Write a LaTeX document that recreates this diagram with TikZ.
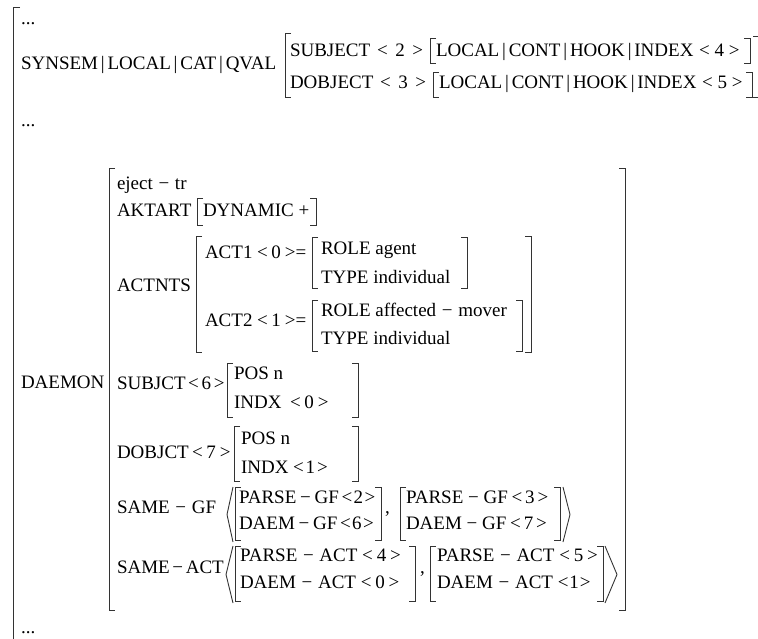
\documentclass[tikz,border=0pt]{standalone}
\usepackage{fontspec}
\setmainfont{Liberation Serif}
% thin spacing round the path separator
\newcommand\fsep{\hspace{0.15em}|\hspace{0.15em}}
% a boxed index such as < 2 >, with a given gap
\newcommand\tagidx[2]{<\hspace{#1}#2\hspace{#1}>}
% a hyphenated name with a given gap round the minus: gap, left, right
\newcommand\hyph[3]{#2\hspace{#1}−\hspace{#1}#3}
% square brackets: x, top, bottom
\newcommand\lbrk[3]{\draw[brk] ({#1+6},#2) -- (#1,#2) -- (#1,#3) -- ({#1+6},#3);}
\newcommand\rbrk[3]{\draw[brk] ({#1-6},#2) -- (#1,#2) -- (#1,#3) -- ({#1-6},#3);}
% angle brackets: tip x, open x, top, bottom
\newcommand\angbrk[4]{\draw[brk] (#2,#3) -- (#1,{(#3+#4)/2}) -- (#2,#4);}
\begin{document}
\begin{tikzpicture}[x=1pt,y=-1pt,
  txt/.style={anchor=base west, inner sep=0pt, outer sep=0pt,
              font=\fontsize{19}{22}\selectfont},
  brk/.style={line width=0.9pt, draw=black!80}]
\useasboundingbox (0,0) rectangle (758,638);

% outermost matrix
\draw[brk] (20,7) -- (13,7) -- (13,645);
\node[txt] (dots1) at (21,24) {...};
\node[txt] (synsem) at (21,69) {SYNSEM\fsep LOCAL\fsep CAT\fsep QVAL};
\lbrk{285}{33}{97}
\rbrk{759}{36}{97}
\node[txt] (subj) at (290,56) {SUBJECT};
\node[txt] (subjt) at (377,56) {\tagidx{.4em}{2}};
\lbrk{430}{38}{63}
\node[txt] (subjv) at (436,56) {LOCAL\fsep CONT\fsep HOOK\fsep INDEX\hspace{.3em}\tagidx{.25em}{4}};
\rbrk{750}{38}{63}
\node[txt] (dobj) at (290,88) {DOBJECT};
\node[txt] (dobjt) at (380,88) {\tagidx{.4em}{3}};
\lbrk{433}{72}{97}
\node[txt] (dobjv) at (439,88) {LOCAL\fsep CONT\fsep HOOK\fsep INDEX\hspace{.3em}\tagidx{.25em}{5}};
\rbrk{752}{72}{97}
\node[txt] (dots2) at (21,126) {...};

% DAEMON value
\node[txt] (daemon) at (21,388) {DAEMON};
\lbrk{109}{168}{610}
\rbrk{625}{168}{610}
\node[txt] (eject) at (117,189) {\hyph{.3em}{eject}{tr}};
\node[txt] (aktart) at (117,216) {AKTART};
\lbrk{197}{198}{225}
\node[txt] (dyn) at (203,216) {DYNAMIC +};
\rbrk{316}{198}{225}

% ACTNTS
\node[txt] (actnts) at (117,291) {ACTNTS};
\lbrk{196}{236}{352}
\rbrk{531}{236}{352}
\node[txt] (act1) at (205,258) {ACT1};
\node[txt] (act1t) at (257,258) {\tagidx{.2em}{0}=};
\lbrk{312}{237}{288}
\node[txt] (role1) at (321,254) {ROLE agent};
\node[txt] (type1) at (321,283) {TYPE individual};
\rbrk{467}{237}{288}
\node[txt] (act2) at (205,326) {ACT2};
\node[txt] (act2t) at (257,326) {\tagidx{.2em}{1}=};
\lbrk{312}{300}{351}
\node[txt] (role2) at (321,316) {ROLE \hyph{.3em}{affected}{mover}};
\node[txt] (type2) at (321,344) {TYPE individual};
\rbrk{522}{300}{351}

% SUBJCT and DOBJCT
\node[txt] (subjct) at (117,389) {SUBJCT};
\node[txt] (subjctt) at (188,389) {\tagidx{.15em}{6}};
\lbrk{227}{363}{417}
\node[txt] (pos1) at (234,379) {POS n};
\node[txt] (indx1) at (234,408) {INDX};
\node[txt] (indx1t) at (290,408) {\tagidx{.2em}{0}};
\rbrk{358}{363}{417}
\node[txt] (dobjct) at (117,458) {DOBJCT};
\node[txt] (dobjctt) at (192,458) {\tagidx{.2em}{7}};
\lbrk{234}{426}{481}
\node[txt] (pos2) at (241,444) {POS n};
\node[txt] (indx2) at (241,473) {INDX};
\node[txt] (indx2t) at (293,473) {\tagidx{.1em}{1}};
\rbrk{358}{426}{481}

% SAME-GF
\node[txt] (samegf) at (117,513) {\hyph{.3em}{SAME}{GF}};
\angbrk{227}{233}{487}{542}
\lbrk{235}{487}{540}
\node[txt] (pgf2) at (239,503) {\hyph{.2em}{PARSE}{GF}\hspace{.14em}\tagidx{.07em}{2}};
\node[txt] (dgf6) at (239,529) {\hyph{.2em}{DAEM}{GF}\hspace{.14em}\tagidx{.07em}{6}};
\rbrk{381}{487}{540}
\node[txt] (c1) at (385,513) {,};
\lbrk{400}{487}{540}
\node[txt] (pgf3) at (406,503) {\hyph{.25em}{PARSE}{GF}\hspace{.2em}\tagidx{.15em}{3}};
\node[txt] (dgf7) at (406,529) {\hyph{.25em}{DAEM}{GF}\hspace{.2em}\tagidx{.15em}{7}};
\rbrk{560}{487}{540}
\angbrk{570}{563}{487}{542}

% SAME-ACT
\node[txt] (sameact) at (117,573) {\hyph{.14em}{SAME}{ACT}};
\angbrk{226}{233}{546}{603}
\lbrk{235}{546}{601}
\node[txt] (pact4) at (240,561) {\hyph{.3em}{PARSE}{ACT}\hspace{.25em}\tagidx{.2em}{4}};
\node[txt] (dact0) at (240,588) {\hyph{.3em}{DAEM}{ACT}\hspace{.25em}\tagidx{.2em}{0}};
\rbrk{415}{546}{601}
\node[txt] (c2) at (420,573) {,};
\lbrk{430}{546}{601}
\node[txt] (pact5) at (437,561) {\hyph{.3em}{PARSE}{ACT}\hspace{.25em}\tagidx{.2em}{5}};
\node[txt] (dact1) at (437,588) {\hyph{.3em}{DAEM}{ACT}\hspace{.25em}\tagidx{.05em}{1}};
\rbrk{603}{546}{601}
\angbrk{617}{605}{546}{603}

\node[txt] (dots3) at (21,633) {...};
\end{tikzpicture}
\end{document}
